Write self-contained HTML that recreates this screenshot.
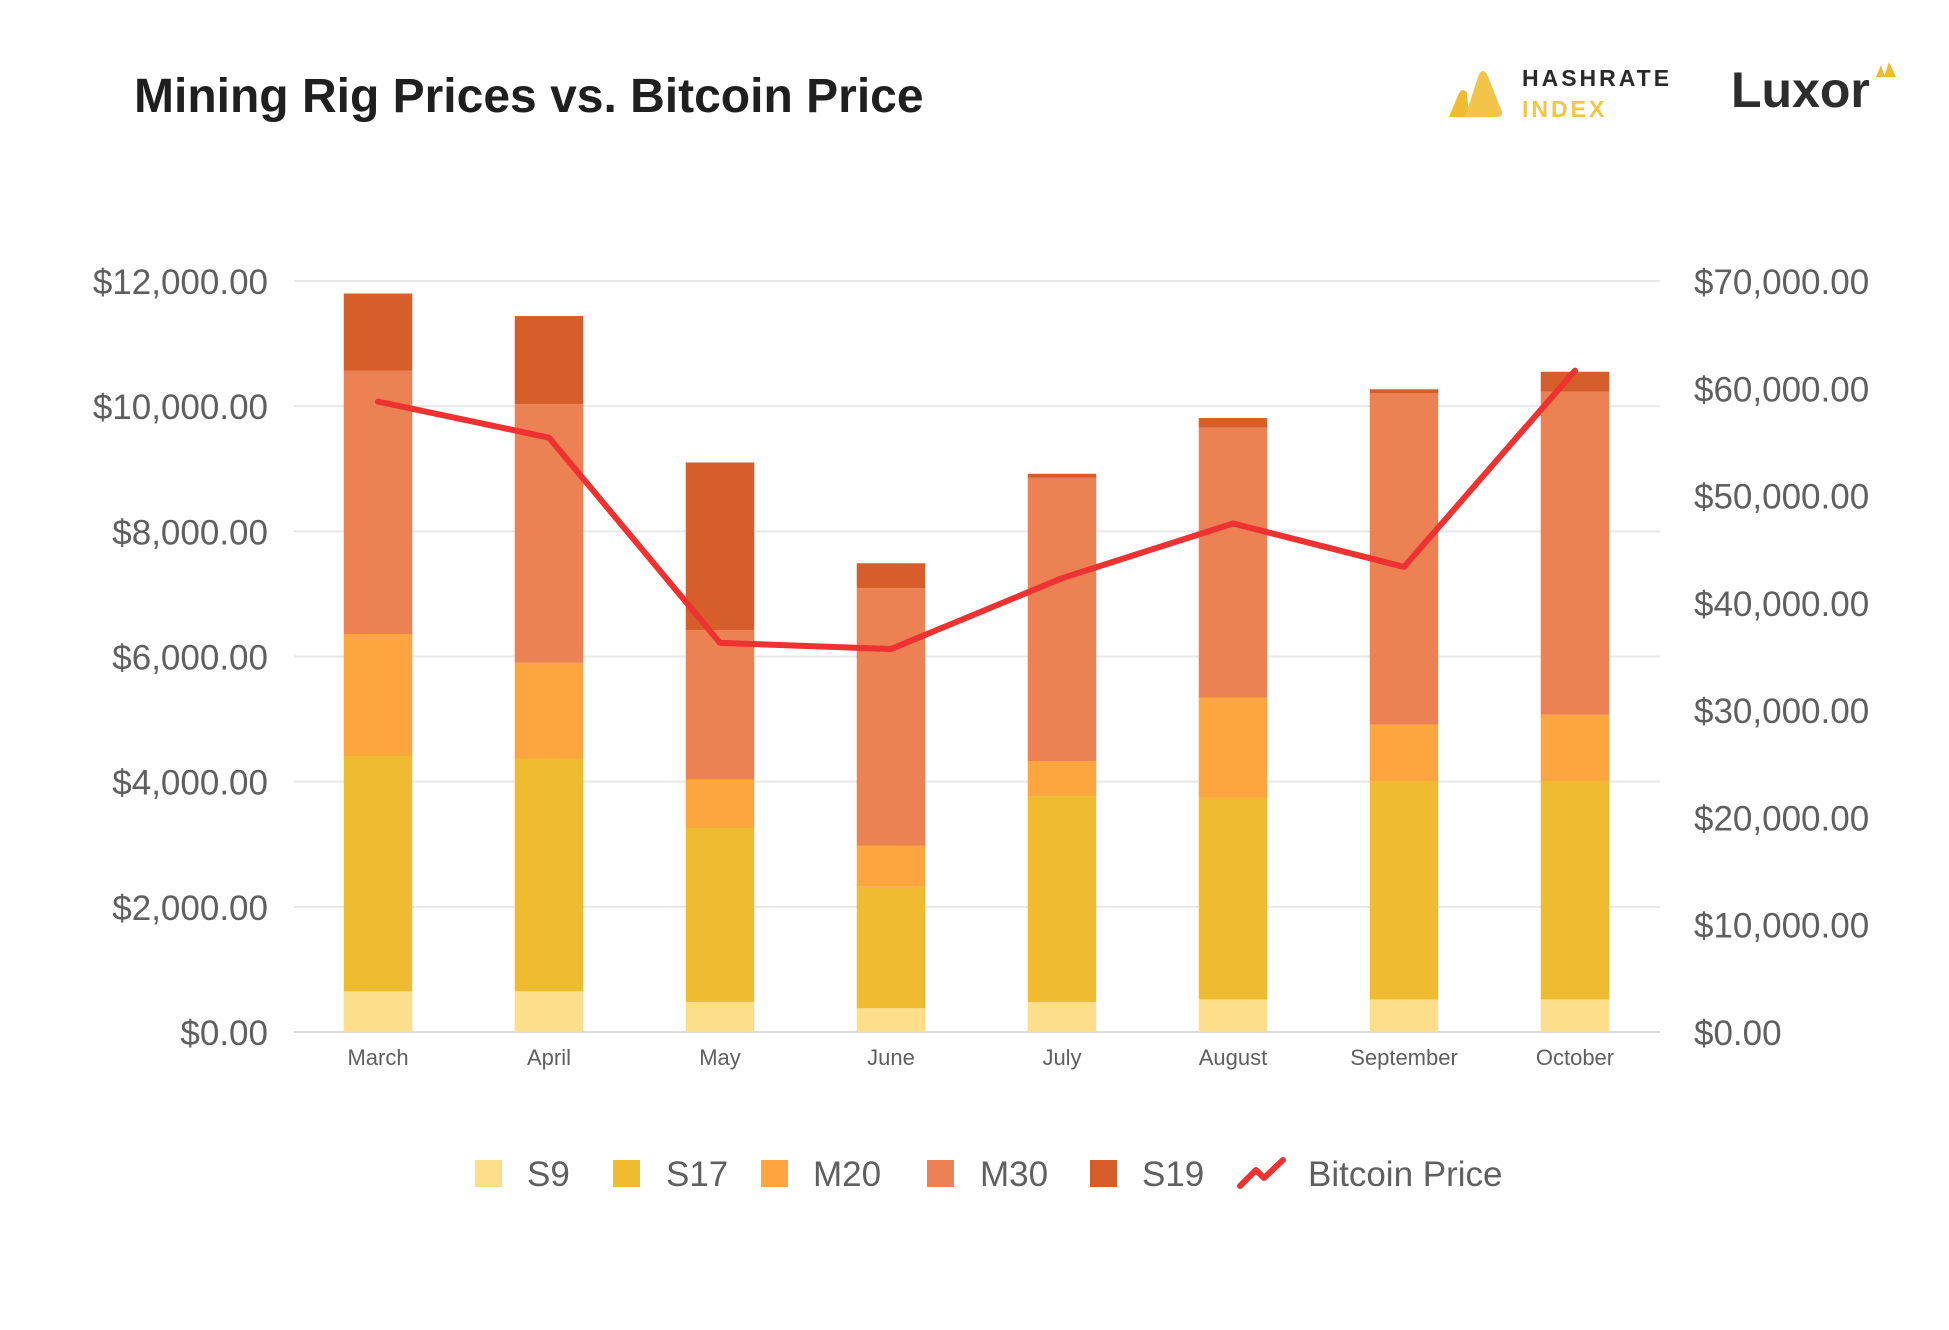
<!DOCTYPE html>
<html><head><meta charset="utf-8"><style>
html,body{margin:0;padding:0;background:#fff;width:1949px;height:1330px;overflow:hidden}
svg{display:block;font-family:"Liberation Sans",sans-serif}
</style></head><body>
<svg id="chart" width="1949" height="1330" viewBox="0 0 1949 1330">
<text x="134" y="112" font-size="48" font-weight="bold" fill="#1f1f1f">Mining Rig Prices vs. Bitcoin Price</text>
<g transform="translate(-9,0)">
<path d="M1458,117 L1468,93 Q1472,87 1476,93 L1478,117 Z" fill="#efbb31"/>
<path d="M1474,117 L1488,74 Q1492,68 1496,74 L1511,112 Q1512,117 1506,117 Z" fill="#f2c44a"/>
<text x="1531" y="86" font-size="23" font-weight="bold" letter-spacing="3" fill="#2a2a2a">HASHRATE</text>
<text x="1531" y="117" font-size="23" font-weight="bold" letter-spacing="3" fill="#f2c44a">INDEX</text>
</g>
<g>
<text x="1731" y="107" font-size="50" font-weight="bold" fill="#2d2d2d">Luxor</text>
<path d="M1876,77 L1881,65 L1885,77 Z M1884,77 L1889,62 L1896,77 Z" fill="#efbb31"/>
</g>
<g id="grid"></g><g id="bars"></g><g id="line"></g><g id="axes"></g>
<g font-size="35" fill="#5f5f5f" transform="translate(-4,-6)">
<g><rect x="479" y="1166" width="27" height="27" fill="#fdde8a"/><text x="531" y="1192" fill="#5f5f5f">S9</text></g>
<g><rect x="617" y="1166" width="27" height="27" fill="#efbb31"/><text x="670" y="1192" fill="#5f5f5f">S17</text></g>
<g><rect x="765" y="1166" width="27" height="27" fill="#fda53e"/><text x="817" y="1192" fill="#5f5f5f">M20</text></g>
<g><rect x="931" y="1166" width="27" height="27" fill="#ec8153"/><text x="984" y="1192" fill="#5f5f5f">M30</text></g>
<g><rect x="1094" y="1166" width="27" height="27" fill="#d55e2b"/><text x="1146" y="1192" fill="#5f5f5f">S19</text></g>
<g><polyline points="1244,1192 1260,1176 1268,1184 1287,1166" fill="none" stroke="#ee3131" stroke-width="6" stroke-linecap="round" stroke-linejoin="round"/><text x="1312" y="1192" fill="#5f5f5f">Bitcoin Price</text></g>
</g>
</svg>
<script>
const months = ["March","April","May","June","July","August","September","October"];
const s9  = [650, 650, 480, 380, 480, 520, 520, 520];
const s17 = [3760, 3720, 2780, 1940, 3290, 3220, 3490, 3490];
const m20 = [1950, 1530, 770, 660, 560, 1600, 900, 1060];
const m30 = [4210, 4130, 2390, 4110, 4530, 4320, 5300, 5160];
const s19 = [1230, 1410, 2680, 400, 60, 150, 60, 320];
const btc = [58760, 55400, 36270, 35700, 42300, 47400, 43350, 61650];
const leftTicks = [0, 2000, 4000, 6000, 8000, 10000, 12000];
const rightTicks = [0, 10000, 20000, 30000, 40000, 50000, 60000, 70000];

const NS = "http://www.w3.org/2000/svg";
const y0 = 1032, yTop = 281, xL = 294, xR = 1660;
const yL = v => y0 - v / 12000 * (y0 - yTop);
const yR = v => y0 - v / 70000 * (y0 - yTop);
const step = 171, first = 378, bw = 68.5;
const xC = i => first + i * step;
function mk(tag, attrs, parent, text){
  const e = document.createElementNS(NS, tag);
  for (const k in attrs) e.setAttribute(k, attrs[k]);
  if (text !== undefined) e.textContent = text;
  parent.appendChild(e); return e;
}
const grid = document.getElementById("grid"), axes = document.getElementById("axes");
leftTicks.forEach(v => {
  const l = mk("line", {x1:xL, x2:xR, y1:yL(v), y2:yL(v), stroke: v===0?"#dcdcdc":"#e8e8e8", "stroke-width":2}, grid);
  
  
  const t = mk("text", {x:268, y:yL(v)+13, "text-anchor":"end", "font-size":35, fill:"#5f5f5f"}, axes, "$" + v.toLocaleString("en-US",{minimumFractionDigits:2}));
  
  
});
rightTicks.forEach(v => {
  const t = mk("text", {x:1694, y:yR(v)+13, "font-size":35, fill:"#5f5f5f"}, axes, "$" + v.toLocaleString("en-US",{minimumFractionDigits:2}));
  
  
});
months.forEach((m, i) => {
  const t = mk("text", {x:xC(i), y:1065, "text-anchor":"middle", "font-size":22, fill:"#5f5f5f"}, axes, m);
  
  
});
const series = [["s9", s9, "#fdde8a"], ["s17", s17, "#efbb31"], ["m20", m20, "#fda53e"], ["m30", m30, "#ec8153"], ["s19", s19, "#d55e2b"]];
const bars = document.getElementById("bars");
months.forEach((m, i) => {
  let acc = 0;
  series.forEach(([name, arr, col]) => {
    const a = yL(acc), b = yL(acc + arr[i]);
    const r = mk("rect", {x:xC(i)-bw/2, y:b, width:bw, height:a-b, fill:col}, bars);
    
    
    acc += arr[i];
  });
});
const pts = btc.map((v, i) => xC(i) + "," + yR(v)).join(" ");
const pl = mk("polyline", {points:pts, fill:"none", stroke:"#ee3131", "stroke-width":6, "stroke-linejoin":"round", "stroke-linecap":"round"}, document.getElementById("line"));


</script>
</body></html>
